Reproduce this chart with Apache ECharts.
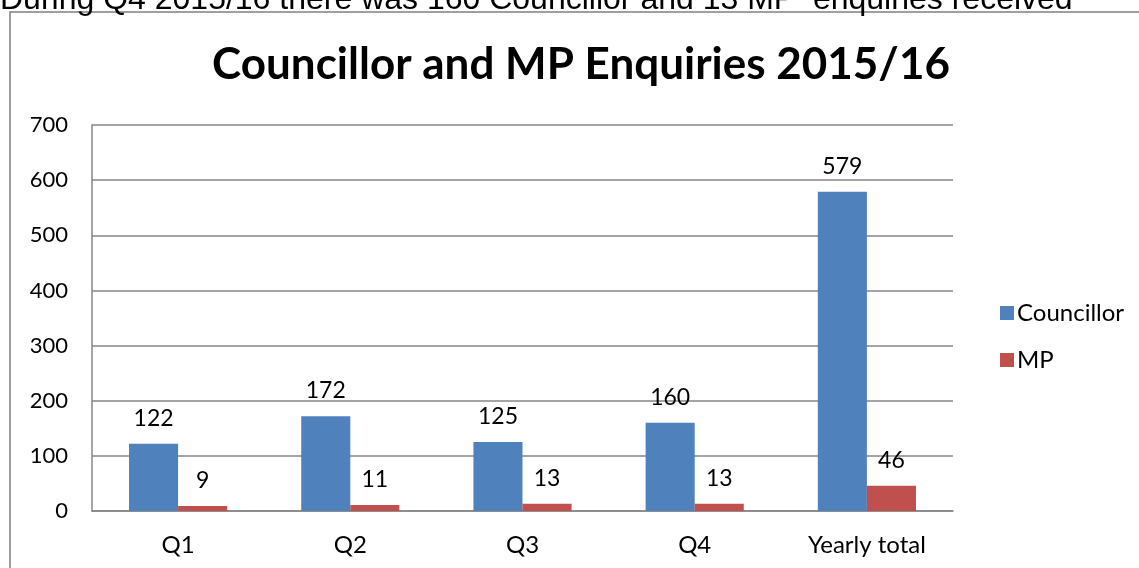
<!DOCTYPE html>
<html>
<head>
<meta charset="utf-8">
<script src="https://cdn.jsdelivr.net/npm/echarts@6/dist/echarts.min.js"></script>
<style>
  html, body { margin: 0; padding: 0; background: #fff; }
  #chart { width: 1139px; height: 568px; }
</style>
</head>
<body>
<div id="chart"></div>
<script>
// Quarterly enquiry counts for 2015/16
const categories = ['Q1', 'Q2', 'Q3', 'Q4', 'Yearly total'];
const councillor = [122, 172, 125, 160, 579];
const mp = [9, 11, 13, 13, 46];
const seriesNames = ['Councillor', 'MP'];
const titleText = 'Councillor and MP Enquiries 2015/16';
const captionText = 'During Q4 2015/16 there was 160 Councillor and 13 MP  enquiries received';

const chart = echarts.init(document.getElementById('chart'), null, { renderer: 'canvas' });

const labelStyle = {
  show: true,
  position: 'top',
  distance: 14,
  fontFamily: 'Lato',
  fontSize: 23,
  color: '#000'
};

chart.setOption({
  animation: false,
  backgroundColor: '#fff',
  title: {
    text: titleText,
    left: 576,
    textAlign: 'center',
    top: 38,
    textStyle: { fontFamily: 'Lato', fontWeight: 'bold', fontSize: 44, color: '#000' }
  },
  graphic: [
    {
      type: 'rect',
      shape: { x: 10, y: 12, width: 1200, height: 700 },
      style: { fill: 'none', stroke: '#808080', lineWidth: 1.5 },
      z: -1
    },
    {
      type: 'text',
      x: 0,
      y: 0,
      style: {
        text: captionText,
        fontFamily: 'Liberation Sans',
        fontSize: 32,
        fill: '#000',
        verticalAlign: 'middle'
      }
    }
  ],
  legend: {
    orient: 'vertical',
    left: 995,
    top: 296,
    itemWidth: 14,
    itemHeight: 14,
    itemGap: 23,
    icon: 'rect',
    textStyle: { fontFamily: 'Lato', fontSize: 24, color: '#000', padding: [0, 0, 0, -2] },
    data: seriesNames
  },
  grid: { left: 92, top: 125, right: 186, bottom: 57 },
  xAxis: {
    type: 'category',
    data: categories,
    axisLine: { lineStyle: { color: '#868686', width: 1.5 } },
    axisTick: { show: false },
    axisLabel: { fontFamily: 'Lato', fontSize: 24, color: '#000', margin: 22 }
  },
  yAxis: {
    type: 'value',
    min: 0,
    max: 700,
    interval: 100,
    axisLine: { show: true, lineStyle: { color: '#868686', width: 1.5 } },
    axisTick: { show: false },
    splitLine: { lineStyle: { color: '#868686', width: 1.5 } },
    axisLabel: { fontFamily: 'Lato', fontSize: 22, color: '#000', margin: 24 }
  },
  series: [
    {
      name: seriesNames[0],
      type: 'bar',
      data: councillor,
      barGap: '0%',
      barCategoryGap: '43%',
      itemStyle: { color: '#4F81BD' },
      label: labelStyle
    },
    {
      name: seriesNames[1],
      type: 'bar',
      data: mp,
      itemStyle: { color: '#C0504D' },
      label: labelStyle
    }
  ]
});
</script>
</body>
</html>
